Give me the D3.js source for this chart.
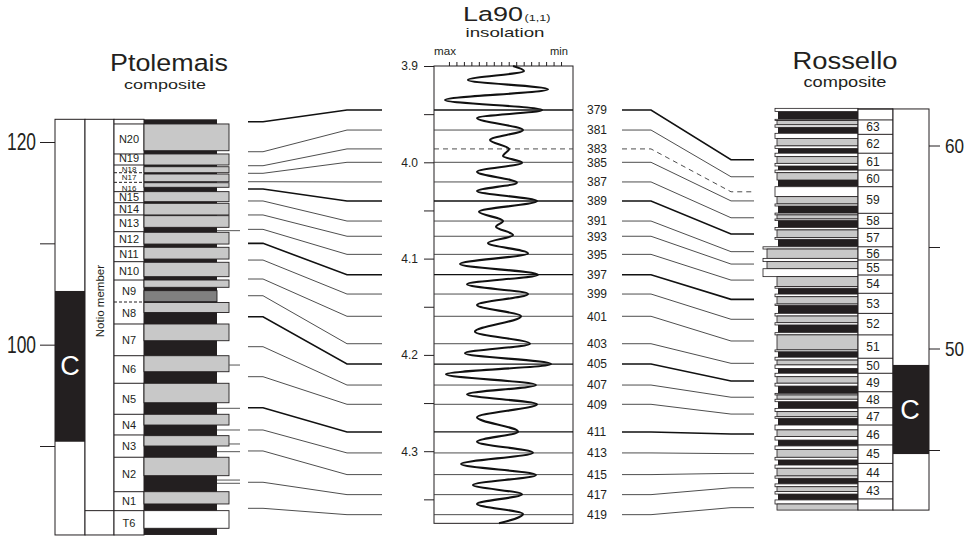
<!DOCTYPE html>
<html><head><meta charset="utf-8">
<script src="https://cdn.jsdelivr.net/npm/d3@7"></script>
<style>
body{margin:0;background:#fff}
svg{display:block}
text{font-family:"Liberation Sans",Arial,Helvetica,sans-serif;fill:#231f20}
</style></head>
<body><svg width="975" height="537"></svg>
<script>
// ===================== DATA =====================
// Astronomical (La90 insolation) cycles and their ages (Ma)
const cycles = [379,381,383,385,387,389,391,393,395,397,399,401,403,405,407,409,411,413,415,417,419];
const cycleAges = [3.9457,3.9665,3.9861,4.0000,4.0204,4.0402,4.0610,4.0768,4.0956,4.1167,4.1368,4.1599,4.1884,4.2095,4.2313,4.2513,4.2800,4.3018,4.3243,4.3451,4.3659];
const majorCycles = [379,389,397,405,411];
const uncertainCycles = [383];
// tie points: stratigraphic level (m) of each cycle in the two composites
const ptolemaisTie = [122.00,119.04,117.66,116.91,116.08,115.36,114.18,112.80,111.38,110.00,108.35,106.48,104.83,102.76,99.80,96.84,93.78,91.58,89.51,86.42,83.85];
const rosselloTie  = [59.30,58.46,57.72,57.27,56.44,55.64,54.77,54.16,53.37,52.42,51.44,50.37,49.27,48.40,47.60,46.77,45.79,44.82,43.85,43.14,42.16];

// insolation curve (turning points), age in Ma, insolation in W/m2
const insolAge = [3.9000,3.9052,3.9145,3.9242,3.9353,3.9457,3.9540,3.9665,3.9768,3.9862,3.9935,4.0004,4.0098,4.0212,4.0298,4.0402,4.0513,4.0610,4.0669,4.0755,4.0838,4.0945,4.1056,4.1167,4.1267,4.1368,4.1482,4.1599,4.1759,4.1884,4.1983,4.2094,4.2201,4.2313,4.2409,4.2513,4.2648,4.2797,4.2901,4.3016,4.3133,4.3247,4.3351,4.3448,4.3548,4.3652,4.3749];
const insolValue = [477.1,469.8,507.3,453.7,522.6,457.7,501.2,470.5,492.5,479.8,483.8,471.1,501.2,474.5,501.2,461.1,499.9,483.8,488.5,477.1,493.9,467.1,512.6,460.4,507.9,467.1,501.2,471.8,502.6,465.8,509.3,451.7,522.0,461.8,507.9,461.1,501.2,473.8,501.2,463.8,511.9,461.8,503.9,471.1,501.2,470.5,486.5];
const insolDomain = [530, 437];           // max .. min
const insolTicks = [520,515,510,505,500,495,490,485,480,475,470,465,460,455,450,445];
const ageRange = [3.9, 4.3749];
const ageMajorTicks = [3.9,4.0,4.1,4.2,4.3];
const ageMinorTicks = [3.95,4.05,4.15,4.25,4.35];

// Ptolemais composite (m)
const ptolemaisTop = 122.24, ptolemaisBase = 81.22;
const ptolemaisTicks = [120,110,100,90];
const ptolemaisTickLabels = [120,100];
const ptolemaisReversed = [[105.30,90.42]];
const notioMemberBase = 83.62;
const ptolemaisCycleNames = ["N20","N19","N18","N17","N16","N15","N14","N13","N12","N11","N10","N9","N8","N7","N6","N5","N4","N3","N2","N1","T6"];
const ptolemaisCycleTops  = [121.78,118.82,117.73,116.97,116.02,115.10,114.01,112.80,111.15,109.67,108.19,106.38,104.21,102.04,98.91,96.19,93.13,91.09,88.89,85.49,83.62];
const ptolemaisDashedBounds = [116.97,116.02,104.21];
// beds: [top, base, lithology]  g = grey marl, d = dark grey, w = white
const ptolemaisBeds = [
  [121.78,119.14,"g"],[118.82,117.73,"g"],[117.56,116.97,"g"],[116.84,116.08,"g"],[115.98,115.53,"g"],
  [115.10,114.11,"g"],[113.95,112.80,"g"],[112.73,111.58,"g"],[111.09,109.93,"g"],[109.61,108.45,"g"],
  [108.13,106.71,"g"],[106.38,105.66,"g"],[105.33,104.24,"d"],[104.16,103.17,"g"],[102.04,100.39,"g"],
  [98.91,97.33,"g"],[96.19,94.27,"g"],[93.13,92.07,"g"],[91.02,90.00,"g"],[88.89,87.07,"g"],
  [85.49,84.28,"g"],[83.62,81.88,"w"]];
const ptolemaisMarkers = [111.25,97.99,93.72,91.58,90.20,89.44,86.64,86.32];

// Rossello composite (m)
const rosselloTop = 61.80, rosselloBase = 42.04;
const rosselloTicks = [60,55,50,45];
const rosselloTickLabels = [60,50];
const rosselloReversed = [[49.19,44.80]];
const rosselloCycleNames = ["","63","62","61","60","59","58","57","56","55","54","53","52","51","50","49","48","47","46","45","44","43",""];
const rosselloCycleTops  = [61.80,61.26,60.55,59.62,58.79,57.97,56.66,55.92,55.01,54.36,53.62,52.72,51.73,50.67,49.52,48.78,47.87,47.08,46.23,45.25,44.34,43.44,42.59];
// beds: [top, base, lithology] w white limestone, k sapropel, g grey marl, W/G protruding beds
const rosselloBeds = [
 [61.83,61.67,"w"],[61.67,61.29,"k"],[61.29,61.23,"w"],[61.23,61.02,"g"],[61.02,60.90,"w"],[60.90,60.60,"k"],
 [60.60,60.35,"w"],[60.35,59.98,"g"],[59.98,59.85,"w"],[59.85,59.62,"k"],[59.62,59.45,"w"],[59.45,59.12,"g"],
 [59.12,58.99,"w"],[58.99,58.79,"k"],[58.79,58.66,"w"],[58.66,58.30,"g"],[58.30,57.97,"k"],[57.97,57.48,"w"],
 [57.48,57.12,"g"],[57.12,57.02,"w"],[57.02,56.67,"k"],[56.67,56.58,"w"],[56.58,56.38,"g"],[56.38,56.30,"w"],
 [56.30,55.96,"k"],[55.96,55.84,"w"],[55.84,55.47,"g"],[55.47,55.38,"w"],[55.38,55.01,"k"],[55.01,54.90,"W"],
 [54.90,54.44,"G"],[54.44,54.28,"W"],[54.28,53.93,"G"],[53.93,53.54,"W"],[53.54,53.05,"g"],[53.05,52.97,"w"],
 [52.97,52.68,"k"],[52.68,52.55,"w"],[52.55,52.19,"g"],[52.19,52.12,"w"],[52.12,51.73,"k"],[51.73,51.60,"w"],
 [51.60,51.27,"g"],[51.27,51.16,"w"],[51.16,50.78,"k"],[50.78,50.67,"w"],[50.67,49.93,"g"],[49.93,49.84,"w"],
 [49.84,49.57,"k"],[49.57,49.43,"w"],[49.43,49.19,"g"],[49.19,49.02,"w"],[49.02,48.78,"k"],[48.78,48.61,"w"],
 [48.61,48.29,"g"],[48.29,48.15,"w"],[48.15,47.79,"k"],[47.79,47.71,"w"],[47.71,47.50,"g"],[47.50,47.38,"w"],
 [47.38,47.05,"k"],[47.05,46.89,"w"],[46.89,46.64,"g"],[46.64,46.56,"w"],[46.56,46.23,"k"],[46.23,45.99,"w"],
 [45.99,45.66,"g"],[45.66,45.49,"w"],[45.49,45.20,"k"],[45.20,45.03,"w"],[45.03,44.64,"g"],[44.64,44.51,"w"],
 [44.51,44.26,"k"],[44.26,44.10,"w"],[44.10,43.72,"g"],[43.72,43.61,"w"],[43.61,43.33,"k"],[43.33,43.19,"w"],
 [43.19,42.95,"g"],[42.95,42.83,"w"],[42.83,42.54,"k"],[42.54,42.34,"w"],[42.34,42.04,"g"]];

// ===================== DRAWING =====================
const INK = "#231f20", GREY = "#c8c8c8", LINE = "#3a3a3a";
const svg = d3.select("svg");

const yAge = d3.scaleLinear().domain([3.9, 4.4]).range([66, 547.5]);
const xIns = d3.scaleLinear().domain(insolDomain).range([434, 573]);
const yP = d3.scaleLinear().domain([120, 90]).range([142, 446]);
const yR = d3.scaleLinear().domain([60, 45]).range([145.5, 450]);

function squeeze(sel, len){ sel.attr("textLength", len).attr("lengthAdjust","spacingAndGlyphs"); }
function txt(g, s, x, y, size, anchor, len){
  const t = g.append("text").attr("x",x).attr("y",y).attr("font-size",size).attr("text-anchor",anchor||"middle").text(s);
  if (len) squeeze(t, len);
  return t;
}

// ---------- titles ----------
txt(svg,"Ptolemais",169,71,24.5,"middle",118);
txt(svg,"composite",165,88.5,13.5,"middle",82);
txt(svg,"Rossello",845,69,23,"middle",105);
txt(svg,"composite",845,87,14,"middle",83);
txt(svg,"La90",493,20.5,20.5,"middle",60);
txt(svg,"(1,1)",524.5,20.5,9,"start",26);
txt(svg,"insolation",505,36.5,13,"middle",79);
txt(svg,"max",445,55,11,"middle",22);
txt(svg,"min",559,55,11,"middle",18);

// ---------- Ptolemais ----------
const gP = svg.append("g");
const pT = yP(ptolemaisTop), pB = yP(ptolemaisBase);
gP.append("rect").attr("x",55).attr("y",pT).attr("width",30).attr("height",pB-pT).attr("fill","#fff").attr("stroke",INK);
gP.selectAll(".rev").data(ptolemaisReversed).join("rect").attr("x",55).attr("width",30)
  .attr("y",d=>yP(d[0])).attr("height",d=>yP(d[1])-yP(d[0])).attr("fill",INK);
const pRev = ptolemaisReversed[0];
txt(gP,"C",70,yP((pRev[0]+pRev[1])/2)+9,27,"middle").style("fill","#fff");
// member column
gP.append("rect").attr("x",85).attr("y",pT).attr("width",29).attr("height",pB-pT).attr("fill","#fff").attr("stroke",INK);
gP.append("line").attr("x1",85).attr("x2",114).attr("y1",yP(notioMemberBase)).attr("y2",yP(notioMemberBase)).attr("stroke",INK);
gP.append("text").attr("transform",`translate(99.5,${yP(104.3)}) rotate(-90)`).attr("text-anchor","middle")
  .attr("dy","0.35em").attr("font-size",11.5).text("Notio member");
// cycle column
gP.append("rect").attr("x",114).attr("y",pT).attr("width",30).attr("height",pB-pT).attr("fill","#fff").attr("stroke",INK);
gP.selectAll(".pb").data(ptolemaisCycleTops).join("line").attr("x1",114).attr("x2",144)
  .attr("y1",d=>yP(d)).attr("y2",d=>yP(d)).attr("stroke",INK)
  .attr("stroke-dasharray",d=>ptolemaisDashedBounds.includes(d)?"3,2":null);
ptolemaisCycleNames.forEach((n,i)=>{
  const top = ptolemaisCycleTops[i], base = i<ptolemaisCycleTops.length-1 ? ptolemaisCycleTops[i+1] : ptolemaisBase;
  const small = (top-base) < 1.0;
  let yc = (yP(top)+yP(base))/2;
  if (n==="N19") yc -= 1.5; if (n==="N16") yc += 1;
  txt(gP,n,129,yc+(small?2.9:4),small?8:11,"middle");
});
// lithology
gP.append("rect").attr("x",144).attr("y",pT).attr("width",73).attr("height",pB-pT).attr("fill",INK);
gP.selectAll(".bed").data(ptolemaisBeds).join("rect")
  .attr("x",144).attr("width",d=>d[2]==="d"?73:85)
  .attr("y",d=>yP(d[0])).attr("height",d=>yP(d[1])-yP(d[0]))
  .attr("fill",d=>d[2]==="g"?GREY:d[2]==="d"?"#808080":"#fff").attr("stroke",INK).attr("stroke-width",0.9);
// short marker lines from the column
gP.selectAll(".mk").data(ptolemaisMarkers).join("line")
  .attr("x1",d=>ptolemaisBeds.some(b=>b[2]==="g"&&d<=b[0]&&d>=b[1])?229:217).attr("x2",240)
  .attr("y1",d=>yP(d)).attr("y2",d=>yP(d)).attr("stroke","#555").attr("stroke-width",1);
// axis
const axP = svg.append("g").attr("transform","translate(55,0)")
  .call(d3.axisLeft(yP).tickValues(ptolemaisTicks).tickSize(15).tickPadding(4)
    .tickFormat(d=>ptolemaisTickLabels.includes(d)?d:""));
axP.select(".domain").remove();
axP.selectAll("line").attr("stroke",INK);
axP.selectAll("text").attr("font-size",23).attr("font-family","Liberation Sans, Arial, sans-serif").attr("fill",INK)
  .filter(function(){return this.textContent!==""}).call(squeeze,29);

// ---------- tie lines ----------
const tieLine = d3.line();
const styleOf = c => majorCycles.includes(c) ? {w:1.6,c:"#111"} : {w:0.9,c:LINE};
const gL = svg.append("g").attr("fill","none");
cycles.forEach((c,i)=>{
  const yl = yP(ptolemaisTie[i]), yc = yAge(cycleAges[i]), yr = yR(rosselloTie[i]);
  const s = styleOf(c);
  gL.append("path").attr("d",tieLine([[248,yl],[263,yl],[347,yc],[382,yc]])).attr("stroke",s.c).attr("stroke-width",s.w);
  gL.append("path").attr("d",tieLine([[622,yc],[651,yc],[731,yr],[754,yr]])).attr("stroke",s.c).attr("stroke-width",s.w)
    .attr("stroke-dasharray",uncertainCycles.includes(c)?"5,4":null);
});

// ---------- insolation panel ----------
const gI = svg.append("g");
const iT = yAge(ageRange[0]), iB = yAge(ageRange[1]);
gI.append("rect").attr("x",434).attr("y",iT).attr("width",139).attr("height",iB-iT).attr("fill","#fff").attr("stroke",INK);
cycles.forEach((c,i)=>{
  const y = yAge(cycleAges[i]), s = styleOf(c);
  gI.append("line").attr("x1",434).attr("x2",573).attr("y1",y).attr("y2",y)
    .attr("stroke",s.c).attr("stroke-width",Math.min(s.w,1.3))
    .attr("stroke-dasharray",uncertainCycles.includes(c)?"5,4":null);
  txt(gI,String(c),587,y+4.3,12,"start");
});
const curve = d3.line().x(d=>xIns(d[1])).y(d=>yAge(d[0])).curve(d3.curveMonotoneY);
gI.append("path").attr("d",curve(d3.zip(insolAge,insolValue))).attr("fill","none").attr("stroke","#111").attr("stroke-width",2.1);
const axA = svg.append("g").attr("transform","translate(434,0)")
  .call(d3.axisLeft(yAge).tickValues(ageMajorTicks).tickSize(10).tickPadding(6).tickFormat(d3.format(".1f")));
const axA2 = svg.append("g").attr("transform","translate(434,0)")
  .call(d3.axisLeft(yAge).tickValues(ageMinorTicks).tickSize(10).tickFormat(""));
[axA,axA2].forEach(a=>{a.select(".domain").remove(); a.selectAll("line").attr("stroke",INK);});
axA.selectAll("text").attr("font-size",12).attr("font-family","Liberation Sans, Arial, sans-serif").attr("fill",INK);
const axTop = svg.append("g").attr("transform",`translate(0,${iT})`)
  .call(d3.axisTop(xIns).tickValues(insolTicks).tickSize(4).tickFormat(""));
axTop.select(".domain").remove(); axTop.selectAll("line").attr("stroke",INK);

// ---------- Rossello ----------
const gR = svg.append("g");
const rT = yR(rosselloTop), rB = yR(rosselloBase);
const bedX = {w:775,W:763,g:777,G:767,k:778};
gR.selectAll(".rb").data(rosselloBeds).join("rect")
  .attr("x",d=>bedX[d[2]]).attr("width",d=>858-bedX[d[2]])
  .attr("y",d=>yR(d[0])).attr("height",d=>Math.max(0.5,yR(d[1])-yR(d[0])))
  .attr("fill",d=>d[2]==="k"?INK:(d[2]==="g"||d[2]==="G")?GREY:"#fff")
  .attr("stroke",d=>d[2]==="k"?"none":INK).attr("stroke-width",0.8);
// cycle column
gR.append("rect").attr("x",858).attr("y",rT).attr("width",35).attr("height",rB-rT).attr("fill","#fff").attr("stroke",INK);
gR.selectAll(".rc").data(rosselloCycleTops).join("line").attr("x1",858).attr("x2",893)
  .attr("y1",d=>yR(d)).attr("y2",d=>yR(d)).attr("stroke",INK);
rosselloCycleNames.forEach((n,i)=>{
  if(!n) return;
  const top = rosselloCycleTops[i], base = rosselloCycleTops[i+1];
  txt(gR,n,873,(yR(top)+yR(base))/2+4.3,12,"middle");
});
// polarity
gR.append("rect").attr("x",893).attr("y",rT).attr("width",36).attr("height",rB-rT).attr("fill","#fff").attr("stroke",INK);
gR.selectAll(".rr").data(rosselloReversed).join("rect").attr("x",893).attr("width",36)
  .attr("y",d=>yR(d[0])).attr("height",d=>yR(d[1])-yR(d[0])).attr("fill",INK);
const rRev = rosselloReversed[0];
txt(gR,"C",910,yR((rRev[0]+rRev[1])/2)+9,27,"middle").style("fill","#fff");
const axR = svg.append("g").attr("transform","translate(929,0)")
  .call(d3.axisRight(yR).tickValues(rosselloTicks).tickSize(11).tickPadding(5)
    .tickFormat(d=>rosselloTickLabels.includes(d)?d:""));
axR.select(".domain").remove();
axR.selectAll("line").attr("stroke",INK);
axR.selectAll("text").attr("font-size",21).attr("font-family","Liberation Sans, Arial, sans-serif").attr("fill",INK)
  .filter(function(){return this.textContent!==""}).call(squeeze,19);
</script></body></html>
